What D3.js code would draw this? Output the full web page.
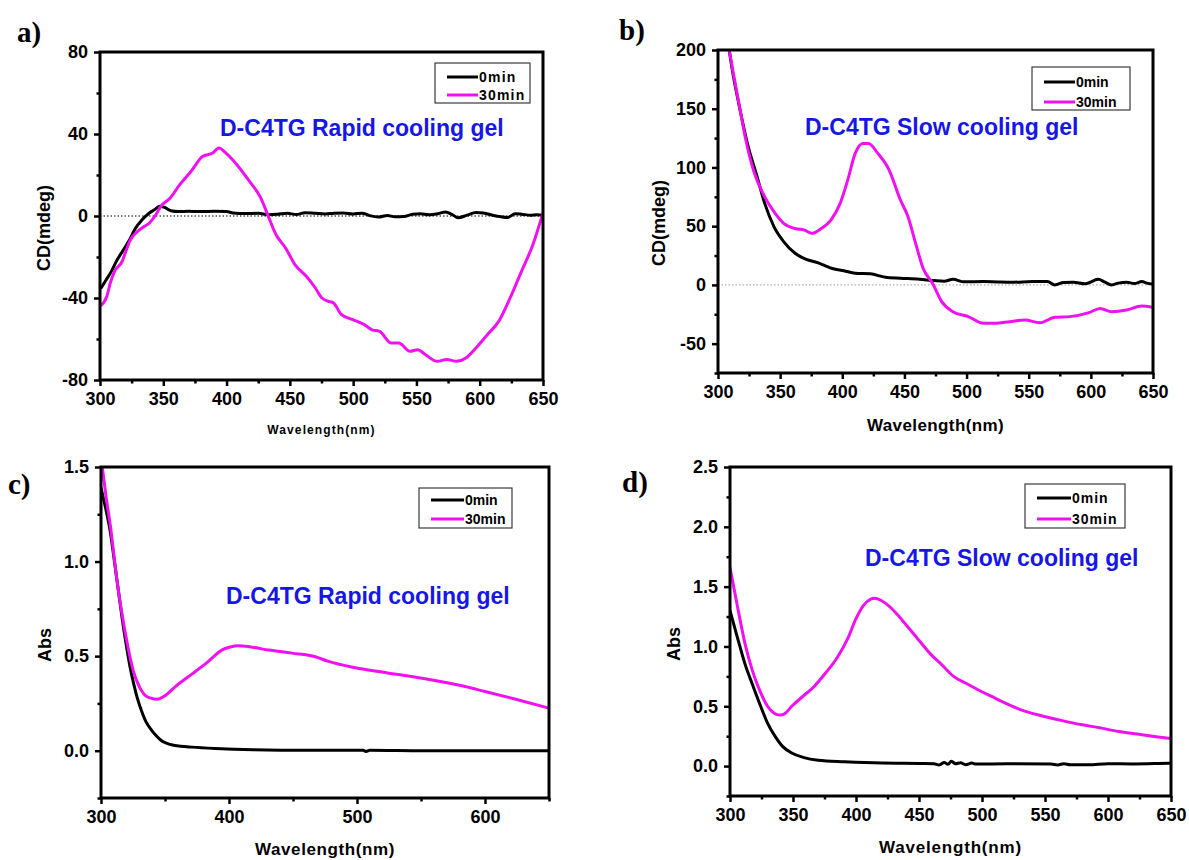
<!DOCTYPE html>
<html>
<head>
<meta charset="utf-8">
<script src="https://cdn.jsdelivr.net/npm/d3@7"></script>
<style>
  body { margin: 0; background: #fff; }
  svg { display: block; font-family: "Liberation Sans", Arial, sans-serif; }
</style>
</head>
<body>
<svg id="fig" width="1189" height="860"></svg>
<script>
// ---------- shared axis values ----------
const wavelengthMajor = [300, 350, 400, 450, 500, 550, 600, 650];
const wavelengthMinor = [325, 375, 425, 475, 525, 575, 625];
const wavelengthMajorWide = [300, 400, 500, 600];
const wavelengthMinorWide = [350, 450, 550, 650];
const seriesNames = ["0min", "30min"];
const seriesColors = ["#000000", "#f010f0"];
const noteColor = "#1616e6";

// ---------- (a) CD, rapid cooling gel ----------
const cdRapidTicks = [-80, -40, 0, 40, 80];
const cdRapidMinor = [-60, -20, 20, 60];
const cdRapid0Wl = [301, 305, 309, 313, 318, 323, 328, 333, 339, 343, 347, 351, 356, 362, 370, 380, 390, 400, 405, 415, 425, 433, 440, 448, 455, 462, 470, 478, 485, 492, 500, 507, 513, 520, 527, 533, 540, 547, 553, 560, 567, 573, 578, 583, 590, 597, 603, 610, 617, 622, 628, 633, 640, 645, 650];
const cdRapid0Val = [-35, -31, -27, -22, -17, -12, -6, -2, 1.5, 3, 4.8, 4.2, 2.6, 2.2, 2.3, 2.2, 2.3, 2.2, 1.5, 1.2, 1.3, 0.6, 0.8, 1.4, 0.7, 1.6, 1.3, 1.0, 1.4, 1.5, 1.0, 1.4, 0.2, -0.5, 0.3, -0.4, -0.3, 0.9, 1.1, 0.6, 1.1, 2.0, 0.8, -0.9, 0.4, 1.7, 1.5, 0.4, -0.4, -0.7, 1.1, 0.9, 0.4, 0.6, 0.4];
const cdRapid30Wl = [300, 305.5, 308, 311.5, 317.6, 320, 323.7, 329.7, 334, 339, 344, 348, 355.5, 363, 372, 381, 389, 394, 399.5, 407, 418, 427, 433, 439, 446.6, 454, 463, 470, 475.4, 480, 484.5, 490.6, 499.7, 508.8, 515, 521, 530, 536, 545, 551, 557, 566.5, 574, 581.6, 589, 597, 606, 615, 624, 633, 642, 650];
const cdRapid30Val = [-44, -39, -33, -27, -22, -18, -12, -7.5, -5.5, -3.4, 0.5, 4.7, 8.8, 15.3, 21.8, 29, 30.7, 33.2, 30.7, 25.9, 17, 8.8, -0.2, -9, -15.6, -23.7, -29.4, -35, -40, -41.5, -42.4, -48, -50.6, -53, -55.5, -56.3, -62, -62, -66, -65.2, -67.6, -70.9, -70, -70.9, -69.3, -64.4, -57.9, -51.4, -40, -27, -14, 1.5];

// ---------- (b) CD, slow cooling gel ----------
const cdSlowTicks = [-50, 0, 50, 100, 150, 200];
const cdSlowMinor = [-75, -25, 25, 75, 125, 175];
const cdSlow0Wl = [309, 312, 316.4, 324, 331.5, 337.6, 345, 352.8, 362, 371, 380, 386, 392, 401.3, 410.4, 422.5, 434.7, 446.8, 462, 474, 482, 489, 498, 513.5, 525, 537.8, 553, 565, 571, 578, 586, 595.4, 606, 611, 616.7, 622, 628.8, 635, 641, 645, 650];
const cdSlow0Val = [200, 180, 156, 119, 92, 69.4, 49.6, 36.9, 27, 21.8, 19, 16.5, 14, 12.1, 9.9, 9.4, 6.5, 5.7, 4.8, 3.7, 3.2, 4.8, 2.6, 2.8, 2.5, 2.3, 2.8, 2.8, 0, 2.0, 2.3, 0.9, 4.8, 2.5, 0, 1.5, 2.3, 1.2, 2.8, 1.5, 0.6];
const cdSlow30Wl = [309, 312, 316.4, 322.4, 328.5, 337.6, 345, 352.8, 361.9, 369.5, 375.5, 383, 390.7, 398.3, 404.3, 410.4, 416.5, 421, 428.6, 437.7, 446.8, 452.9, 459, 465, 472.6, 480, 489, 501.4, 513.5, 522.6, 534.8, 546.9, 559, 571, 583, 598.5, 607.5, 616.7, 628.8, 640.9, 650];
const cdSlow30Val = [200, 182, 157, 123.4, 97.8, 75, 62.3, 52.4, 48, 46.7, 43.9, 48, 55, 69.4, 89, 112, 120.5, 120.5, 112, 97.8, 72.3, 58, 35.4, 14.2, 1.4, -14.2, -22.8, -27, -32.7, -32.7, -31.3, -29.9, -32.2, -27.6, -27, -23.6, -20, -22.8, -21.4, -18, -19];

// ---------- (c) UV-Vis, rapid cooling gel ----------
const absRapidTicks = [0, 0.5, 1.0, 1.5];
const absRapidMinor = [-0.25, 0.25, 0.75, 1.25];
const absRapid0Wl = [300, 304, 307.5, 310.5, 313.6, 316.5, 319.6, 322.5, 325.6, 328.5, 331.7, 335, 339, 343, 346.8, 351, 355.8, 362, 371, 389, 419, 461, 505, 507, 510, 552, 600, 650];
const absRapid0Val = [1.39, 1.27, 1.147, 1.0, 0.846, 0.7, 0.564, 0.45, 0.352, 0.275, 0.21, 0.155, 0.113, 0.08, 0.055, 0.04, 0.03, 0.024, 0.019, 0.012, 0.005, 0.002, 0.002, -0.004, 0.003, 0.0, 0.0, 0.0];
const absRapid30Wl = [301, 304, 307.5, 310.5, 313.6, 316.5, 319.6, 322.5, 325.6, 328.5, 331.7, 335, 339, 343.8, 349.8, 358.8, 371, 383, 395, 401, 407, 416, 431, 449, 467.5, 476.5, 497.6, 521.8, 552, 582, 600, 624, 650];
const absRapid30Val = [1.5, 1.34, 1.18, 1.01, 0.846, 0.72, 0.6, 0.5, 0.414, 0.36, 0.317, 0.29, 0.278, 0.272, 0.29, 0.343, 0.405, 0.467, 0.534, 0.548, 0.555, 0.55, 0.532, 0.516, 0.497, 0.475, 0.44, 0.414, 0.382, 0.343, 0.313, 0.272, 0.225];

// ---------- (d) UV-Vis, slow cooling gel ----------
const absSlowTicks = [0, 0.5, 1.0, 1.5, 2.0, 2.5];
const absSlowMinor = [-0.25, 0.25, 0.75, 1.25, 1.75, 2.25];
const absSlow0Wl = [300, 306, 312, 317.9, 323.8, 329.8, 335.7, 341.7, 349, 358, 370, 390.9, 420.6, 450.4, 462, 466, 470, 473, 475.7, 479, 483, 487, 492, 495, 520, 554.7, 560, 565, 570, 584.5, 600, 620, 640, 650];
const absSlow0Val = [1.3, 1.07, 0.85, 0.68, 0.515, 0.36, 0.25, 0.165, 0.11, 0.073, 0.048, 0.036, 0.025, 0.022, 0.02, 0.01, 0.03, 0.015, 0.04, 0.02, 0.028, 0.012, 0.025, 0.017, 0.02, 0.017, 0.01, 0.02, 0.012, 0.011, 0.02, 0.018, 0.022, 0.025];
const absSlow30Wl = [300, 306, 312, 317.9, 323.8, 329.8, 333.5, 337.2, 340, 343.2, 349, 358, 367, 376, 385, 393.8, 399.8, 405.7, 411.7, 414.7, 417.7, 423.6, 432.6, 441.5, 450.4, 459.4, 468.3, 477.2, 489.2, 498, 510, 522, 533.8, 548.7, 563.6, 578.5, 593.4, 608.3, 623.2, 638, 650];
const absSlow30Val = [1.66, 1.33, 1.02, 0.794, 0.626, 0.5, 0.455, 0.43, 0.427, 0.436, 0.5, 0.584, 0.668, 0.78, 0.906, 1.074, 1.228, 1.34, 1.395, 1.402, 1.395, 1.36, 1.27, 1.158, 1.046, 0.934, 0.845, 0.752, 0.682, 0.632, 0.57, 0.51, 0.459, 0.417, 0.38, 0.347, 0.32, 0.29, 0.268, 0.246, 0.23];

const zip = (xs, ys) => xs.map((x, i) => ({ x, y: ys[i] }));

// Panel layout and content, built from the arrays above
const panels = [
  {
    letter: "a)", letterPos: [17, 42],
    frame: { l: 100, r: 543, t: 52, b: 380 },
    yDomain: [-80, 80], yMajor: cdRapidTicks, yMinor: cdRapidMinor, yFmt: d => String(d),
    xMajor: wavelengthMajor, xMinor: wavelengthMinor,
    zero: "#000", yTitle: "CD(mdeg)", yTitlePos: [44, 228],
    xTitle: { y: 434, size: 12, spacing: 1.1 },
    note: { text: "D-C4TG Rapid cooling gel", x: 220, y: 136 },
    legend: { right: 13, top: 11, w: 95, h: 40, line: 31, rows: [14, 32], textSpacing: 1.2 },
    series: [zip(cdRapid0Wl, cdRapid0Val), zip(cdRapid30Wl, cdRapid30Val)]
  },
  {
    letter: "b)", letterPos: [619, 40],
    frame: { l: 718, r: 1153, t: 50, b: 373 },
    yDomain: [-75, 200], yMajor: cdSlowTicks, yMinor: cdSlowMinor, yFmt: d => String(d),
    xMajor: wavelengthMajor, xMinor: wavelengthMinor,
    zero: "#9a9a9a", yTitle: "CD(mdeg)", yTitlePos: [659, 223],
    xTitle: { y: 431, size: 17, spacing: 0.4 },
    note: { text: "D-C4TG Slow cooling gel", x: 805, y: 135 },
    legend: { right: 23, top: 17, w: 98, h: 43, line: 31, rows: [15, 35], textSpacing: 0 },
    series: [zip(cdSlow0Wl, cdSlow0Val), zip(cdSlow30Wl, cdSlow30Val)]
  },
  {
    letter: "c)", letterPos: [8, 494],
    frame: { l: 101, r: 549, t: 467, b: 798 },
    yDomain: [-0.25, 1.5], yMajor: absRapidTicks, yMinor: absRapidMinor, yFmt: d3.format(".1f"),
    xMajor: wavelengthMajorWide, xMinor: wavelengthMinorWide,
    zero: null, yTitle: "Abs", yTitlePos: [45, 645],
    xTitle: { y: 855, size: 17, spacing: 0.6 },
    note: { text: "D-C4TG Rapid cooling gel", x: 226, y: 604 },
    legend: { right: 37, top: 21, w: 93, h: 40, line: 33, rows: [12, 31], textSpacing: 0 },
    series: [zip(absRapid0Wl, absRapid0Val), zip(absRapid30Wl, absRapid30Val)]
  },
  {
    letter: "d)", letterPos: [622, 492],
    frame: { l: 730, r: 1171, t: 467, b: 796 },
    yDomain: [-0.25, 2.5], yMajor: absSlowTicks, yMinor: absSlowMinor, yFmt: d3.format(".1f"),
    xMajor: wavelengthMajor, xMinor: wavelengthMinor,
    zero: null, yTitle: "Abs", yTitlePos: [674, 644],
    xTitle: { y: 853, size: 17, spacing: 0.8 },
    note: { text: "D-C4TG Slow cooling gel", x: 865, y: 566 },
    legend: { right: 46, top: 17, w: 100, h: 44, line: 34, rows: [14, 35], textSpacing: 1 },
    series: [zip(absSlow0Wl, absSlow0Val), zip(absSlow30Wl, absSlow30Val)]
  }
];

const svg = d3.select("#fig");
const defs = svg.append("defs");

panels.forEach((p, idx) => {
  const f = p.frame;
  const x = d3.scaleLinear().domain([300, 650]).range([f.l, f.r]);
  const y = d3.scaleLinear().domain(p.yDomain).range([f.b, f.t]);
  const g = svg.append("g");

  const clipId = "plot-clip-" + idx;
  defs.append("clipPath").attr("id", clipId)
    .append("rect").attr("x", f.l).attr("y", f.t)
    .attr("width", f.r - f.l).attr("height", f.b - f.t);

  // zero reference line
  if (p.zero) {
    g.append("line")
      .attr("x1", x(300)).attr("x2", x(650))
      .attr("y1", y(0)).attr("y2", y(0))
      .attr("stroke", p.zero).attr("stroke-width", 1)
      .attr("stroke-dasharray", "1.5,2");
  }

  // spectra
  const line = d3.line().x(d => x(d.x)).y(d => y(d.y)).curve(d3.curveMonotoneX);
  const plot = g.append("g").attr("clip-path", `url(#${clipId})`);
  p.series.forEach((s, i) => {
    plot.append("path").datum(s)
      .attr("d", line)
      .attr("fill", "none")
      .attr("stroke", seriesColors[i])
      .attr("stroke-width", 3)
      .attr("stroke-linejoin", "round")
      .attr("stroke-linecap", "round");
  });

  // axes: major ticks with labels, minor ticks without
  const styleAxis = sel => {
    sel.attr("font-family", null).attr("font-size", null);
    sel.select(".domain").remove();
    sel.selectAll("line").attr("stroke", "#000").attr("stroke-width", 2.5);
    sel.selectAll("text")
      .attr("fill", "#000")
      .style("font-size", "18px")
      .style("font-weight", "bold");
  };
  g.append("g").attr("transform", `translate(0,${f.b})`)
    .call(d3.axisBottom(x).tickValues(p.xMajor).tickSize(6).tickPadding(6).tickFormat(d3.format("d")))
    .call(styleAxis);
  g.append("g").attr("transform", `translate(0,${f.b})`)
    .call(d3.axisBottom(x).tickValues(p.xMinor).tickSize(3.5).tickFormat(""))
    .call(styleAxis);
  g.append("g").attr("transform", `translate(${f.l},0)`)
    .call(d3.axisLeft(y).tickValues(p.yMajor).tickSize(6).tickPadding(6).tickFormat(p.yFmt))
    .call(styleAxis);
  g.append("g").attr("transform", `translate(${f.l},0)`)
    .call(d3.axisLeft(y).tickValues(p.yMinor).tickSize(3.5).tickFormat(""))
    .call(styleAxis);

  // frame
  g.append("rect")
    .attr("x", f.l).attr("y", f.t)
    .attr("width", f.r - f.l).attr("height", f.b - f.t)
    .attr("fill", "none").attr("stroke", "#000").attr("stroke-width", 3);

  // axis titles
  g.append("text")
    .attr("x", (f.l + f.r) / 2).attr("y", p.xTitle.y)
    .attr("text-anchor", "middle")
    .style("font-size", p.xTitle.size + "px").style("font-weight", "bold")
    .style("letter-spacing", p.xTitle.spacing + "px")
    .text("Wavelength(nm)");
  g.append("text")
    .attr("transform", `translate(${p.yTitlePos[0]},${p.yTitlePos[1]}) rotate(-90)`)
    .attr("text-anchor", "middle").attr("dominant-baseline", "central")
    .style("font-size", "18px").style("font-weight", "bold")
    .text(p.yTitle);

  // sample annotation
  g.append("text")
    .attr("x", p.note.x).attr("y", p.note.y)
    .attr("fill", noteColor)
    .style("font-size", "23px").style("font-weight", "bold")
    .text(p.note.text);

  // legend
  const L = p.legend;
  const lx = f.r - L.right - L.w, ly = f.t + L.top;
  const lg = g.append("g").attr("transform", `translate(${lx},${ly})`);
  lg.append("rect").attr("width", L.w).attr("height", L.h)
    .attr("fill", "#fff").attr("stroke", "#3a3a3a").attr("stroke-width", 1.2);
  seriesNames.forEach((name, i) => {
    lg.append("line")
      .attr("x1", 12).attr("x2", 12 + L.line)
      .attr("y1", L.rows[i]).attr("y2", L.rows[i])
      .attr("stroke", seriesColors[i]).attr("stroke-width", 3);
    lg.append("text")
      .attr("x", 12 + L.line + 1).attr("y", L.rows[i])
      .attr("dominant-baseline", "central")
      .style("font-size", "14px").style("font-weight", "bold")
      .style("letter-spacing", L.textSpacing + "px")
      .text(name);
  });

  // panel letter
  svg.append("text")
    .attr("x", p.letterPos[0]).attr("y", p.letterPos[1])
    .style("font-family", "'Liberation Serif', 'Times New Roman', serif")
    .style("font-size", "29px").style("font-weight", "bold")
    .text(p.letter);
});
</script>
</body>
</html>
